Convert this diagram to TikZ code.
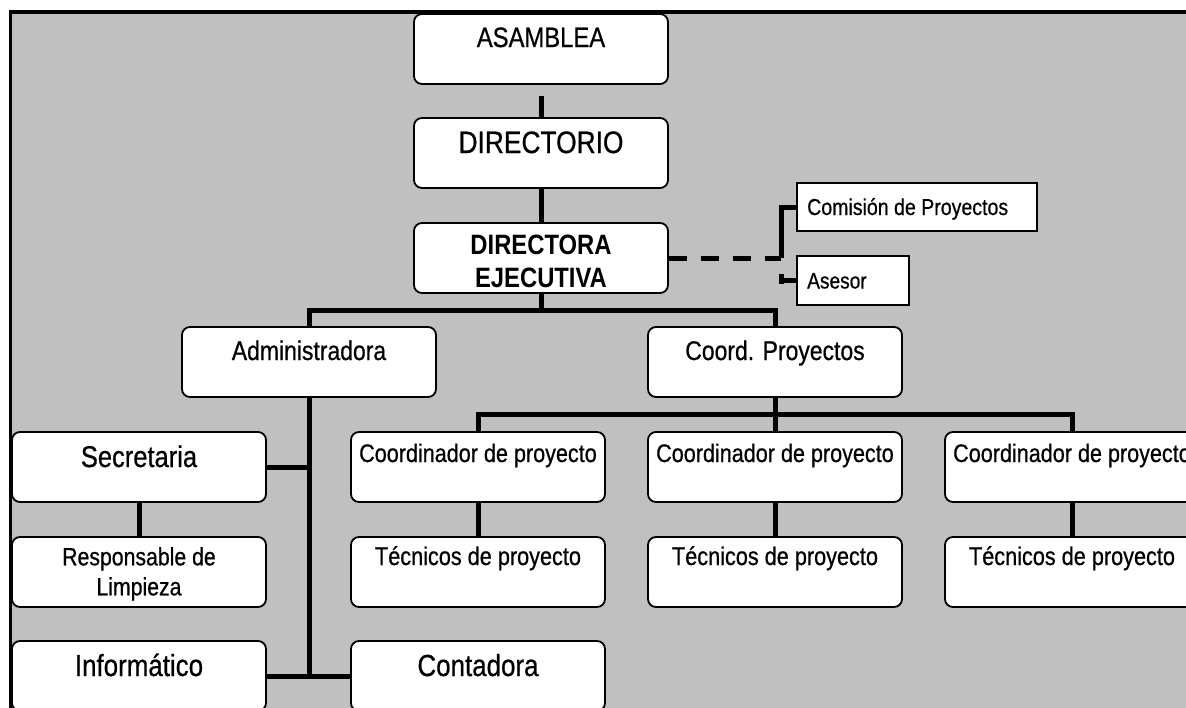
\documentclass[tikz,border=0pt]{standalone}
\usepackage{fontspec}
\setmainfont{Liberation Sans}[FakeStretch=0.85, UprightFeatures={FakeBold=0.6}]
\usetikzlibrary{calc}
\definecolor{bggray}{HTML}{C0C0C0}
\begin{document}
\begin{tikzpicture}[x=1pt,y=-1pt,
  box/.style={draw=black, line width=1.8pt, fill=white, rounded corners=8pt, minimum width=254pt, minimum height=70pt, inner sep=0pt},
  sqbox/.style={draw=black, line width=1.8pt, fill=white, inner sep=0pt},
  txt/.style={inner sep=0pt, anchor=base, text=black},
  fs/.style={font=\fontsize{#1}{#1}\selectfont},
  conn/.style={line width=5pt, line join=miter},
  dashconn/.style={line width=5pt, dash pattern=on 18pt off 14pt}
]
\useasboundingbox (0,0) rectangle (1186,707);
\clip (0,0) rectangle (1186,707);
\fill[white] (0,0) rectangle (1186,707);
\draw[line width=3.5pt, fill=bggray] (10.5,12) rectangle (1210,730);

% boxes
\node[box] (asam) at (541,49) {};
\node[box] (dir) at (541,153) {};
\node[box] (dirx) at (541,258) {};
\node[box] (admin) at (309,362) {};
\node[box] (coordp) at (775,362) {};
\node[box] (secr) at (139,467) {};
\node[box] (coord1) at (478,467) {};
\node[box] (coord2) at (775,467) {};
\node[box] (coord3) at (1072,467) {};
\node[box] (resp) at (139,572) {};
\node[box] (tec1) at (478,572) {};
\node[box] (tec2) at (775,572) {};
\node[box] (tec3) at (1072,572) {};
\node[box] (inf) at (139,676) {};
\node[box] (cont) at (478,676) {};
\node[sqbox, minimum width=240pt, minimum height=48pt] (comis) at (917,207) {};
\node[sqbox, minimum width=112pt, minimum height=49pt] (ases) at (853,280.5) {};

% texts
\node[txt, fs=28] (tasam) at (541,47) {ASAMBLEA};
\node[txt, fs=31] (tdir) at (541,153) {DIRECTORIO};
\node[txt, font=\fontsize{28}{33}\selectfont\bfseries, align=center, anchor=north] (tdirx) at (541,235) {DIRECTORA\\EJECUTIVA};
\node[txt, fs=27] (tadmin) at (309,360) {Administradora};
\node[txt, fs=27] (tcoordp) at (775,360) {Coord. Proyectos};
\node[txt, fs=30] (tsecr) at (139,467) {Secretaria};
\node[txt, font=\fontsize{25}{30}\selectfont, align=center, anchor=north] (tresp) at (139,547) {Responsable de\\Limpieza};
\node[txt, fs=30.5] (tinf) at (139,676) {Informático};
\node[txt, fs=30.5] (tcont) at (478,676) {Contadora};
\node[txt, fs=25.4] (tc1) at (478,462) {Coordinador de proyecto};
\node[txt, fs=25.4] (tc2) at (775,462) {Coordinador de proyecto};
\node[txt, fs=25.4] (tc3) at (1072,462) {Coordinador de proyecto};
\node[txt, fs=25.5] (tt1) at (478,565) {Técnicos de proyecto};
\node[txt, fs=25.5] (tt2) at (775,565) {Técnicos de proyecto};
\node[txt, fs=25.5] (tt3) at (1072,565) {Técnicos de proyecto};
\node[txt, fs=23, anchor=base west] (tcomis) at (807,215) {Comisión de Proyectos};
\node[txt, fs=22.5, anchor=base west] (tases) at (807,288.5) {Asesor};

% connectors
\draw[conn] ([yshift=-11pt]asam.south) -- (dir.north);
\draw[conn] (dir.south) -- (dirx.north);
\coordinate (bus1) at (541,310);
\draw[conn] (dirx.south) -- (bus1);
\draw[conn] (admin.north) |- (bus1) -| (coordp.north);
\coordinate (adminend) at (309,676);
\draw[conn] (admin.south) -- (adminend);
\draw[conn] (secr.east) -- (secr.east -| admin.south);
\draw[conn] (inf.east) -- (cont.west);
\draw[conn] (secr.south) -- (resp.north);
\draw[conn] (coordp.south) -- (coord2.north);
\coordinate (bus2) at (775,414);
\draw[conn] (coord1.north) |- (bus2) -| (coord3.north);
\draw[conn] (coord1.south) -- (tec1.north);
\draw[conn] (coord2.south) -- (tec2.north);
\draw[conn] (coord3.south) -- (tec3.north);
\coordinate (dj) at (781,258);
\draw[dashconn] (dirx.east) -- (dj);
\draw[conn] (dj) |- (comis.west);
\coordinate (aj) at (781,274);
\draw[conn] (aj) -- ++(0,10);
\draw[conn] (aj |- ases.west) -- (ases.west);
\end{tikzpicture}
\end{document}
